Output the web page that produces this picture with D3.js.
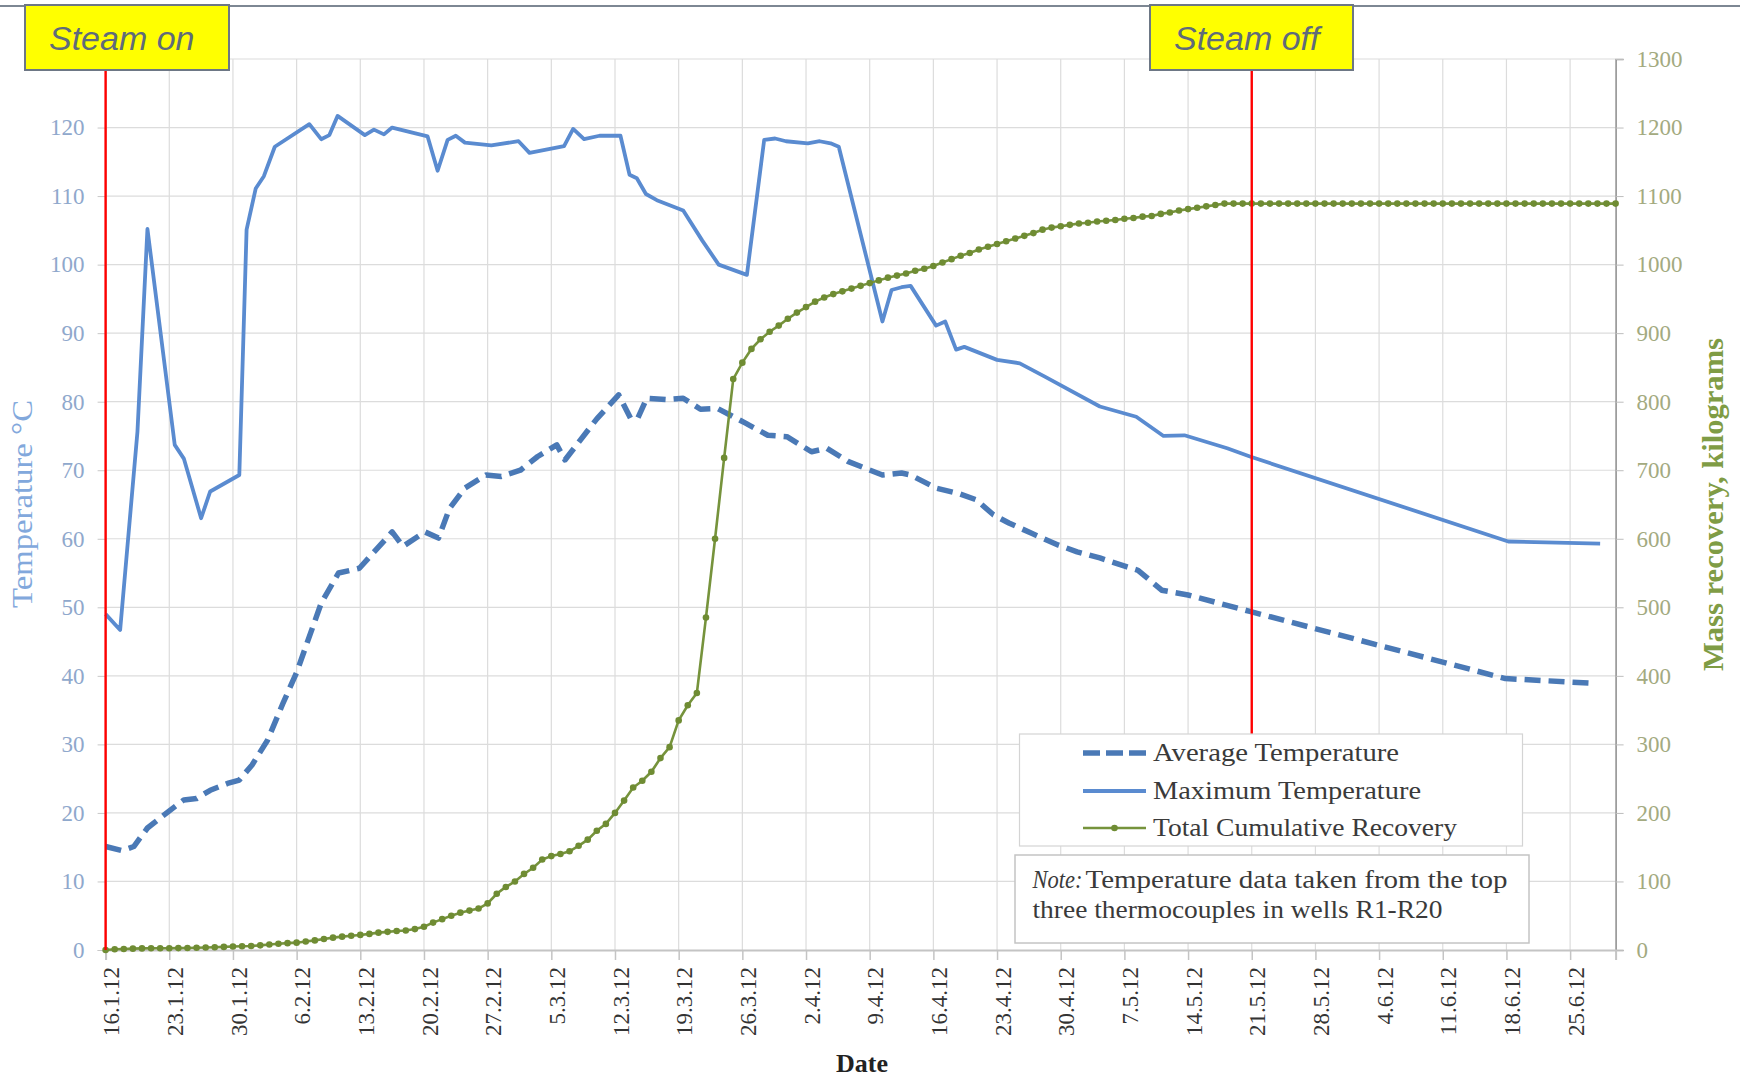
<!DOCTYPE html>
<html>
<head>
<meta charset="utf-8">
<script src="https://cdn.jsdelivr.net/npm/d3@7"></script>
<style>
  body { margin: 0; background: #fff; }
  svg { display: block; }
</style>
</head>
<body>
<div id="chart"></div>
<script>
// ---- data ----
const startDate = "16.1.12";
const endDate = "30.6.12";
const tickLabels = ["16.1.12", "23.1.12", "30.1.12", "6.2.12", "13.2.12", "20.2.12", "27.2.12",
  "5.3.12", "12.3.12", "19.3.12", "26.3.12", "2.4.12", "9.4.12", "16.4.12", "23.4.12", "30.4.12",
  "7.5.12", "14.5.12", "21.5.12", "28.5.12", "4.6.12", "11.6.12", "18.6.12", "25.6.12"];
const tempMax = 130;
const tempTicks = [0, 10, 20, 30, 40, 50, 60, 70, 80, 90, 100, 110, 120];
const massTicks = [0, 100, 200, 300, 400, 500, 600, 700, 800, 900, 1000, 1100, 1200, 1300];

// days after 16.1.12
const maxTempDays = [0, 1.6, 3.5, 4.6, 7.6, 8.6, 10.5, 11.5, 14.7, 15.5, 16.5, 17.4, 18.6, 22.4, 23.7,
  24.6, 25.5, 28.5, 29.5, 30.6, 31.5, 35.4, 36.5, 37.6, 38.5, 39.5, 42.4, 45.4, 46.6, 50.4,
  51.4, 52.6, 54.3, 56.6, 57.6, 58.4, 59.4, 60.6, 63.5, 65.6, 67.4, 70.5, 72.4, 73.6, 74.8,
  77.2, 78.5, 79.7, 80.6, 85.4, 86.4, 87.5, 88.5, 91.3, 92.3, 93.5, 94.4, 98, 100.5, 103.2,
  109.3, 113.3, 116.3, 118.6, 123.3, 125.8, 154.2, 164.3];
const maxTempValues = [49.0, 46.7, 75.6, 105.2, 73.7, 71.7, 63.0, 66.9, 69.3, 105.1, 111.1, 112.9, 117.2, 120.5, 118.3,
  118.9, 121.7, 118.9, 119.7, 119.0, 120.0, 118.7, 113.7, 118.2, 118.8, 117.8, 117.4, 118.0, 116.3, 117.3,
  119.8, 118.3, 118.8, 118.8, 113.1, 112.6, 110.3, 109.4, 107.9, 103.5, 100.0, 98.5, 118.2, 118.4, 118.0,
  117.7, 118.0, 117.7, 117.2, 91.7, 96.3, 96.7, 96.9, 91.1, 91.7, 87.6, 88.0, 86.1, 85.6, 83.7,
  79.3, 77.8, 75.0, 75.1, 73.2, 72.0, 59.6, 59.3];

const avgTempDays = [0, 1.8, 3.1, 4.6, 6.9, 8.6, 10, 11.5, 13.4, 14.7, 16.1, 17.8, 19.5, 21, 23.7,
  25.6, 27.9, 31.5, 32.7, 35.1, 36.6, 37.8, 39.5, 41.8, 43.5, 45.6, 47.5, 49.6, 50.5, 51.9,
  54, 56.4, 57.7, 58.5, 59.5, 61.7, 63.5, 65.4, 67.3, 70.3, 72.8, 74.9, 77.6, 79.3, 81.6,
  85.4, 87.5, 88.5, 91.3, 93.8, 95.7, 97.6, 99.3, 101.8, 104.7, 106.8, 109.3, 112.3, 113.5, 116.1,
  119, 125.8, 153.9, 163.8];
const avgTempValues = [15.1, 14.5, 15.1, 17.8, 20.2, 21.9, 22.1, 23.3, 24.3, 24.8, 27.0, 30.6, 36.0, 40.5, 50.6,
  55.0, 55.7, 61.0, 58.9, 61.0, 60.1, 64.4, 67.4, 69.3, 69.1, 70.0, 72.0, 73.7, 71.5, 73.9,
  77.5, 81.0, 77.6, 77.6, 80.5, 80.3, 80.5, 78.9, 79.0, 76.9, 75.1, 74.9, 72.7, 73.2, 71.3,
  69.3, 69.6, 69.3, 67.4, 66.6, 65.7, 63.5, 62.3, 60.8, 59.1, 58.1, 57.2, 55.9, 55.4, 52.5,
  51.8, 49.4, 39.6, 38.9];

// one value per day from 16.1.12 to 30.6.12 (kg)
const recoveryValues = [0, 1, 1.5, 2, 2.3, 2.5, 2.5, 2.6, 2.8, 3,
  3.3, 3.6, 4, 4.5, 5, 5.4, 5.8, 6.8, 8, 9.2,
  10, 10.7, 12.5, 14, 16, 18, 19.5, 20.8, 22, 23.5,
  25.3, 26.5, 27.8, 28.5, 30.5, 34, 40, 45, 50, 54.5,
  57.5, 60.5, 68, 82, 92, 100, 111, 120, 132, 137,
  140, 144, 152, 161, 174, 184, 200, 218, 237, 247,
  260, 280, 296, 335, 357, 375, 485, 600, 718, 833,
  857, 877, 891, 902, 911, 921, 930, 938, 946, 952,
  957, 961, 965, 969, 973, 977, 981, 984, 987, 991,
  994, 998, 1003, 1008, 1013, 1017, 1022, 1026, 1030, 1034,
  1038, 1042, 1046, 1051, 1054, 1056, 1058, 1060, 1061, 1063,
  1064, 1065, 1067, 1068, 1070, 1071, 1074, 1076, 1079, 1081,
  1083, 1085, 1087, 1089, 1089, 1089, 1089, 1089, 1089, 1089,
  1089, 1089, 1089, 1089, 1089, 1089, 1089, 1089, 1089, 1089,
  1089, 1089, 1089, 1089, 1089, 1089, 1089, 1089, 1089, 1089,
  1089, 1089, 1089, 1089, 1089, 1089, 1089, 1089, 1089, 1089,
  1089, 1089, 1089, 1089, 1089, 1089, 1089];

const steamOnDate = "16.1.12";
const steamOffDate = "21.5.12";
const legendLabels = ["Average Temperature", "Maximum Temperature", "Total Cumulative Recovery"];

// ---- layout ----
const W = 1740, H = 1078;
const margin = {top: 59, right: 124.4, bottom: 128, left: 105.6},
    width = W - margin.left - margin.right,
    height = H - margin.top - margin.bottom;

const serif = '"Liberation Serif", "Times New Roman", serif';
const sans = '"Liberation Sans", Arial, sans-serif';
const blue = "#5a8bd0", blueDark = "#4a79b6", green = "#76933c";

const parseDate = d3.utcParse("%d.%m.%y");
const start = parseDate(startDate);
const dayToDate = d => new Date(start.getTime() + d * 864e5);

const svg = d3.select("#chart").append("svg")
    .attr("width", W)
    .attr("height", H);

svg.append("rect").attr("width", W).attr("height", H).attr("fill", "#fff");

// top rule of the page
svg.append("line")
    .attr("x1", 0).attr("x2", W).attr("y1", 6).attr("y2", 6)
    .attr("stroke", "#7d8793").attr("stroke-width", 2);

const g = svg.append("g").attr("transform", "translate(" + margin.left + "," + margin.top + ")");

const x = d3.scaleUtc()
    .domain([start, parseDate(endDate)])
    .range([0, width]);
const yT = d3.scaleLinear().domain([0, tempMax]).range([height, 0]);
const yM = d3.scaleLinear().domain([0, 1300]).range([height, 0]);

const tickDates = tickLabels.map(parseDate);

// grid
g.append("g").selectAll("line")
    .data(tempTicks.slice(1).concat([tempMax]))
    .enter().append("line")
    .attr("x1", 0).attr("x2", width)
    .attr("y1", d => yT(d)).attr("y2", d => yT(d))
    .attr("stroke", "#dcdcdc").attr("stroke-width", 1.2);
g.append("g").selectAll("line")
    .data(tickDates)
    .enter().append("line")
    .attr("x1", d => x(d)).attr("x2", d => x(d))
    .attr("y1", 0).attr("y2", height)
    .attr("stroke", "#dcdcdc").attr("stroke-width", 1.2);

// left axis (the 130 label sits under the "Steam on" box in the original)
const axL = g.append("g")
    .call(d3.axisLeft(yT).tickValues(tempTicks).tickSize(8).tickPadding(13));
axL.select(".domain").attr("stroke", "#c8c8c8");
axL.selectAll(".tick line").attr("stroke", "#c8c8c8");
axL.selectAll("text").attr("fill", "#8fa8cc").style("font-family", serif).style("font-size", "23px");

// right axis
const axR = g.append("g")
    .attr("transform", "translate(" + width + ",0)")
    .call(d3.axisRight(yM).tickValues(massTicks).tickFormat(d3.format("d")).tickSize(8).tickPadding(13));
axR.select(".domain").attr("stroke", "#8c8c8c").attr("stroke-width", 1.5);
axR.selectAll(".tick line").attr("stroke", "#bdbdbd");
axR.selectAll("text").attr("fill", "#a3aa80").style("font-family", serif).style("font-size", "23px");

// bottom axis
const axB = g.append("g")
    .attr("transform", "translate(0," + height + ")")
    .call(d3.axisBottom(x).tickValues(tickDates).tickSize(10).tickFormat((d, i) => tickLabels[i]));
axB.select(".domain").attr("stroke", "#c4c4c4").attr("stroke-width", 2);
axB.selectAll(".tick line").attr("stroke", "#c4c4c4").attr("stroke-width", 1.5);
axB.selectAll("text")
    .attr("x", 0).attr("y", 0)
    .attr("transform", "translate(5,17) rotate(-90)")
    .attr("dy", "0.35em")
    .style("text-anchor", "end")
    .style("font-family", serif)
    .style("font-size", "23px")
    .attr("fill", "#333");

// series
const avgData = avgTempDays.map((d, i) => ({date: dayToDate(d), v: avgTempValues[i]}));
const maxData = maxTempDays.map((d, i) => ({date: dayToDate(d), v: maxTempValues[i]}));
const recData = recoveryValues.map((v, i) => ({date: dayToDate(i), v: v}));

const lineT = d3.line().x(d => x(d.date)).y(d => yT(d.v));
const lineM = d3.line().x(d => x(d.date)).y(d => yM(d.v));

g.append("path").datum(avgData)
    .attr("d", lineT)
    .attr("fill", "none")
    .attr("stroke", blueDark)
    .attr("stroke-width", 5.5)
    .attr("stroke-dasharray", "16,8")
    .attr("stroke-linejoin", "round");

g.append("path").datum(maxData)
    .attr("d", lineT)
    .attr("fill", "none")
    .attr("stroke", blue)
    .attr("stroke-width", 3.8)
    .attr("stroke-linejoin", "round");

g.append("path").datum(recData)
    .attr("d", lineM)
    .attr("fill", "none")
    .attr("stroke", green)
    .attr("stroke-width", 2.6);
g.append("g").selectAll("circle")
    .data(recData)
    .enter().append("circle")
    .attr("cx", d => x(d.date))
    .attr("cy", d => yM(d.v))
    .attr("r", 3.3)
    .attr("fill", "#6f8c33");

// steam on / off markers
const redLines = [{date: steamOnDate, y2: height}, {date: steamOffDate, y2: 675}];
g.append("g").selectAll("line")
    .data(redLines)
    .enter().append("line")
    .attr("x1", d => x(parseDate(d.date))).attr("x2", d => x(parseDate(d.date)))
    .attr("y1", 10).attr("y2", d => d.y2)
    .attr("stroke", "#ff0000").attr("stroke-width", 2.4);

// axis titles
svg.append("text")
    .attr("transform", "translate(32,504) rotate(-90)")
    .style("text-anchor", "middle")
    .style("font-family", serif)
    .style("font-size", "29px")
    .attr("fill", "#82a8dc")
    .attr("textLength", 208).attr("lengthAdjust", "spacingAndGlyphs")
    .text("Temperature \u00B0C");
svg.append("text")
    .attr("transform", "translate(1723,504.5) rotate(-90)")
    .style("text-anchor", "middle")
    .style("font-family", serif)
    .style("font-size", "30px")
    .style("font-weight", "bold")
    .attr("fill", "#7f9c45")
    .attr("textLength", 333).attr("lengthAdjust", "spacingAndGlyphs")
    .text("Mass recovery, kilograms");
svg.append("text")
    .attr("x", 862).attr("y", 1072)
    .style("text-anchor", "middle")
    .style("font-family", serif)
    .style("font-size", "26px")
    .style("font-weight", "bold")
    .attr("fill", "#222")
    .text("Date");

// steam boxes
const boxes = [{label: "Steam on", x0: 25, x1: 229, tx: 49}, {label: "Steam off", x0: 1150, x1: 1353, tx: 1174}];
const bx = svg.append("g").selectAll("g").data(boxes).enter().append("g");
bx.append("rect")
    .attr("x", d => d.x0).attr("y", 5)
    .attr("width", d => d.x1 - d.x0).attr("height", 65)
    .attr("fill", "#ffff00")
    .attr("stroke", "#6d7785").attr("stroke-width", 2);
bx.append("text")
    .attr("x", d => d.tx).attr("y", 50)
    .style("font-family", sans)
    .style("font-style", "italic")
    .style("font-size", "34px")
    .attr("fill", "#5f6b7a")
    .text(d => d.label);

// legend
const lg = svg.append("g");
lg.append("rect")
    .attr("x", 1019.5).attr("y", 734)
    .attr("width", 503).attr("height", 112)
    .attr("fill", "#fff").attr("stroke", "#d4d4d4").attr("stroke-width", 1.2);
const rowsY = [753, 791, 828];
const textW = [246, 268, 304];
const items = lg.selectAll("g.item").data(legendLabels).enter().append("g").attr("class", "item");
items.append("line")
    .attr("x1", 1083).attr("x2", 1146)
    .attr("y1", (d, i) => rowsY[i]).attr("y2", (d, i) => rowsY[i])
    .attr("stroke", (d, i) => [blueDark, blue, green][i])
    .attr("stroke-width", (d, i) => [5.5, 3.8, 2.6][i])
    .attr("stroke-dasharray", (d, i) => i === 0 ? "17,6" : null);
lg.append("circle").attr("cx", 1114.5).attr("cy", rowsY[2]).attr("r", 3.3).attr("fill", "#6f8c33");
items.append("text")
    .attr("x", 1153).attr("y", (d, i) => rowsY[i] + 8)
    .style("font-family", serif)
    .style("font-size", "25px")
    .attr("fill", "#3a3a3a")
    .attr("textLength", (d, i) => textW[i]).attr("lengthAdjust", "spacingAndGlyphs")
    .text(d => d);

// note box
const nt = svg.append("g");
nt.append("rect")
    .attr("x", 1015).attr("y", 855)
    .attr("width", 514).attr("height", 88)
    .attr("fill", "#fff").attr("stroke", "#c4c4c4").attr("stroke-width", 1.5);
nt.append("text")
    .attr("x", 1032.5).attr("y", 888)
    .style("font-family", serif).style("font-size", "25px").style("font-style", "italic")
    .attr("fill", "#3a3a3a")
    .attr("textLength", 50).attr("lengthAdjust", "spacingAndGlyphs")
    .text("Note:");
nt.append("text")
    .attr("x", 1085.5).attr("y", 888)
    .style("font-family", serif).style("font-size", "25px")
    .attr("fill", "#3a3a3a")
    .attr("textLength", 422).attr("lengthAdjust", "spacingAndGlyphs")
    .text("Temperature data taken from the top");
nt.append("text")
    .attr("x", 1032.5).attr("y", 918)
    .style("font-family", serif).style("font-size", "25px")
    .attr("fill", "#3a3a3a")
    .attr("textLength", 410).attr("lengthAdjust", "spacingAndGlyphs")
    .text("three thermocouples in wells R1-R20");
</script>
</body>
</html>
